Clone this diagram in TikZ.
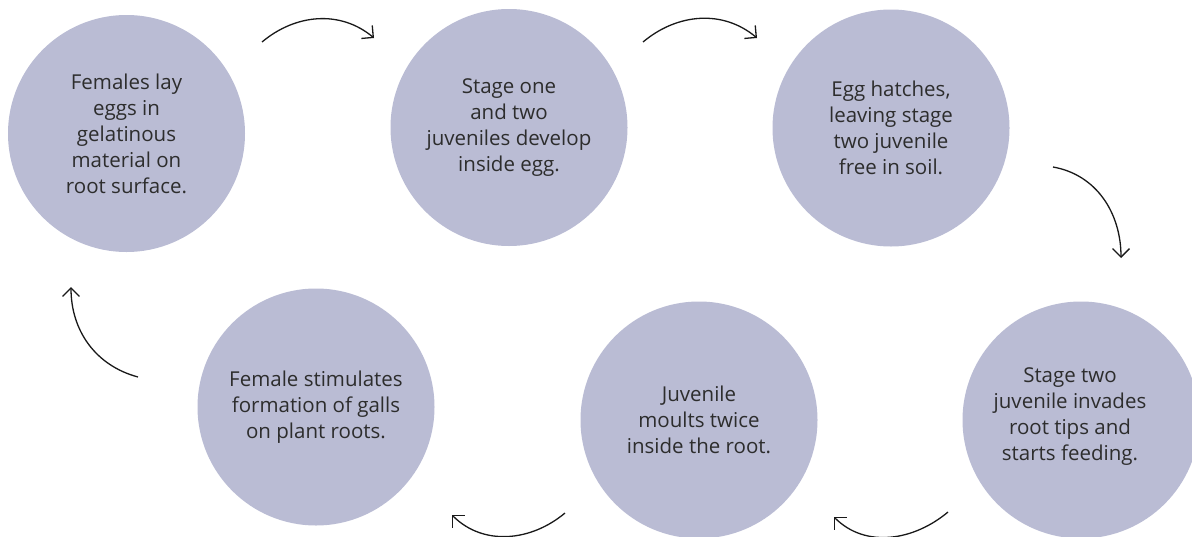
\documentclass[tikz,border=0pt]{standalone}
\usepackage{fontspec}
\setmainfont{Open Sans}
\usetikzlibrary{arrows.meta}
\definecolor{stagefill}{RGB}{186,188,212}
\definecolor{stageink}{RGB}{45,45,45}
\definecolor{arrowink}{RGB}{25,25,25}

\begin{document}
\begin{tikzpicture}[x=1pt, y=1pt,
    stage/.style={circle, fill=stagefill, minimum size=237pt, inner sep=0pt, outer sep=0pt,
      align=center, text=stageink, font=\fontsize{20.5}{26}\selectfont},
    stagetext/.style={align=center, text=stageink, font=\fontsize{20.5}{26}\selectfont},
    cyclearrow/.style={draw=arrowink, line width=1.3pt, -{Straight Barb[angle=90:12pt]}}]
  \useasboundingbox (0,0) rectangle (1192,-536);
  \node[stage] (s1) at (126.5,-133.5) {Females lay\\eggs in\\gelatinous\\material on\\root surface.};
  \node[stage] (s2) at (509,-127.5) {Stage one\\and two\\juveniles develop\\inside egg.};
  \node[stage] (s3) at (891,-128) {Egg hatches,\\leaving stage\\two juvenile\\free in soil.};
  \node[stage] (s4) at (1081,-420) {};
  \node[stagetext] (t4) at (1070,-417) {Stage two\\juvenile invades\\root tips and\\starts feeding.};
  \node[stage] (s5) at (699,-420) {Juvenile\\moults twice\\inside the root.};
  \node[stage] (s6) at (316,-407) {Female stimulates\\formation of galls\\on plant roots.};

  \coordinate (a1s) at (262,-42);   \coordinate (a1e) at (374,-38);
  \coordinate (a2s) at (643,-42);   \coordinate (a2e) at (757,-38);
  \coordinate (a3s) at (1053,-167); \coordinate (a3e) at (1121,-258);
  \coordinate (a4s) at (948,-512);  \coordinate (a4e) at (834,-517);
  \coordinate (a5s) at (565,-513);  \coordinate (a5e) at (452,-515);
  \coordinate (a6s) at (138,-377);  \coordinate (a6e) at (71,-287);

  \draw[cyclearrow] (a1s) to[out=40, in=140] (a1e);
  \draw[cyclearrow] (a2s) to[out=40, in=140] (a2e);
  \draw[cyclearrow] (a3s) to[out=-10, in=90] (a3e);
  \draw[cyclearrow] (a4s) to[out=-140, in=-45] (a4e);
  \draw[cyclearrow] (a5s) to[out=-140, in=-45] (a5e);
  \draw[cyclearrow] (a6s) to[out=165, in=-90] (a6e);
\end{tikzpicture}
\end{document}
